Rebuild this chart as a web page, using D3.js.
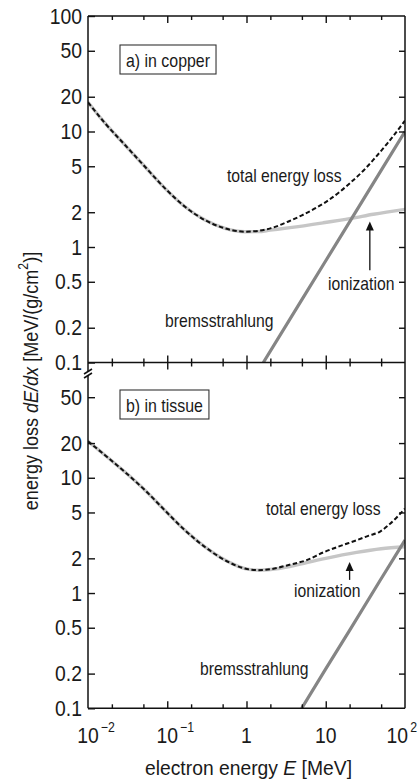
<!DOCTYPE html>
<html>
<head>
<meta charset="utf-8">
<script src="https://cdn.jsdelivr.net/npm/d3@7"></script>
<style>
  html, body { margin: 0; padding: 0; background: #fff; }
  svg text { font-family: "Liberation Sans", Arial, sans-serif; fill: #1a1a1a; }
</style>
</head>
<body>
<svg id="chart" width="418" height="781"></svg>
<script>
// Electron energy in MeV, energy loss in MeV/(g/cm²)
const energyTicks = [0.01, 0.1, 1, 10, 100];
const energyTickLabels = [["10", "−2"], ["10", "−1"], ["1", ""], ["10", ""], ["10", "2"]];
const energyMinorTicks = [0.02, 0.05, 0.2, 0.5, 2, 5, 20, 50];
const lossTicksTop = [100, 50, 20, 10, 5, 2, 1, 0.5, 0.2, 0.1];
const lossTicksBottom = [50, 20, 10, 5, 2, 1, 0.5, 0.2, 0.1];

// a) copper
const copperIonE    = [0.01, 0.0164, 0.0293, 0.0524, 0.0937, 0.1675, 0.299, 0.535, 0.957, 1.41, 1.98, 3.54, 9.3, 20.8, 40, 100];
const copperIonLoss = [17.9, 11.8, 7.64, 4.95, 3.22, 2.23, 1.71, 1.45, 1.357, 1.36, 1.40, 1.47, 1.62, 1.77, 1.92, 2.12];
const copperBremsE    = [1.63, 5, 10, 20, 50, 100];
const copperBremsLoss = [0.1, 0.35, 0.76, 1.65, 4.6, 10];
const copperTotalE    = [0.01, 0.0164, 0.0293, 0.0524, 0.0937, 0.1675, 0.299, 0.535, 0.957, 1.41, 2, 3.5, 5, 7.7, 10, 15, 20, 30, 40, 60, 100];
const copperTotalLoss = [17.9, 11.8, 7.64, 4.95, 3.22, 2.23, 1.71, 1.45, 1.357, 1.38, 1.45, 1.68, 1.88, 2.2, 2.45, 3.0, 3.55, 4.6, 5.7, 7.9, 12.4];

// b) tissue
const tissueIonE    = [0.01, 0.0164, 0.0293, 0.0524, 0.0937, 0.1675, 0.299, 0.535, 0.957, 1.41, 2, 3.5, 5.75, 10, 24.5, 50, 100];
const tissueIonLoss = [20.7, 15.7, 11.2, 7.8, 5.2, 3.5, 2.51, 1.93, 1.63, 1.58, 1.60, 1.70, 1.84, 2.0, 2.25, 2.42, 2.52];
const tissueBremsE    = [4.97, 10, 20, 50, 100];
const tissueBremsLoss = [0.1, 0.22, 0.475, 1.33, 2.88];
const tissueTotalE    = [0.01, 0.0164, 0.0293, 0.0524, 0.0937, 0.1675, 0.299, 0.535, 0.957, 1.41, 2, 3.5, 5.75, 9.3, 15, 24.5, 35, 48, 65, 100];
const tissueTotalLoss = [20.7, 15.7, 11.2, 7.8, 5.2, 3.5, 2.51, 1.93, 1.63, 1.58, 1.61, 1.76, 1.93, 2.25, 2.55, 2.87, 3.15, 3.4, 4.0, 5.4];

const svg = d3.select("#chart");
const W = 418;
const left = 88, right = 405;
const topY = 16, midY = 362.5, botY = 708.3;

const x = d3.scaleLog().domain([0.01, 100]).range([left, right]);
const yTop = d3.scaleLog().domain([0.1, 100]).range([midY, topY]);
const yBot = d3.scaleLog().domain([0.1, 100]).range([botY, midY]);

const zip = (a, b) => a.map((v, i) => [v, b[i]]);

// narrow single-run lettering horizontally (condensed look)
function squeeze(sel, f) {
  sel.each(function () {
    const L = this.getComputedTextLength();
    this.setAttribute("textLength", (L * f).toFixed(2));
    this.setAttribute("lengthAdjust", "spacingAndGlyphs");
  });
}

function styleAxis(g) {
  g.select(".domain").remove();
  g.selectAll(".tick line").attr("stroke", "#111").attr("stroke-width", 1.4);
  g.selectAll(".tick text").attr("font-size", 22).attr("fill", "#1a1a1a").attr("font-family", null);
  squeeze(g.selectAll(".tick text"), 0.88);
}

// clip regions for the two panels
const defs = svg.append("defs");
defs.append("clipPath").attr("id", "clipTop").append("rect")
  .attr("x", left).attr("y", topY).attr("width", right - left).attr("height", midY - topY);
defs.append("clipPath").attr("id", "clipBot").append("rect")
  .attr("x", left).attr("y", midY).attr("width", right - left).attr("height", botY - midY);

function drawCurves(y, clipId, ion, brems, total) {
  const g = svg.append("g").attr("clip-path", `url(#${clipId})`);
  const smooth = d3.line().x(d => x(d[0])).y(d => y(d[1])).curve(d3.curveMonotoneX);
  const straight = d3.line().x(d => x(d[0])).y(d => y(d[1]));
  g.append("path").attr("d", smooth(ion)).attr("fill", "none")
    .attr("stroke", "#c6c6c6").attr("stroke-width", 3.4).attr("stroke-linecap", "round");
  g.append("path").attr("d", straight(brems)).attr("fill", "none")
    .attr("stroke", "#858585").attr("stroke-width", 3.2);
  g.append("path").attr("d", smooth(total)).attr("fill", "none")
    .attr("stroke", "#111").attr("stroke-width", 2).attr("stroke-dasharray", "4.5,2.5");
}

drawCurves(yTop, "clipTop", zip(copperIonE, copperIonLoss), zip(copperBremsE, copperBremsLoss), zip(copperTotalE, copperTotalLoss));
drawCurves(yBot, "clipBot", zip(tissueIonE, tissueIonLoss), zip(tissueBremsE, tissueBremsLoss), zip(tissueTotalE, tissueTotalLoss));

// ---- axes ----
const fmt = d3.format("~g");
// left (labelled) axes, ticks pointing inward
svg.append("g").attr("transform", `translate(${left},0)`)
  .call(d3.axisLeft(yTop).tickValues(lossTicksTop).tickFormat(fmt).tickSizeInner(-7).tickSizeOuter(0).tickPadding(6))
  .call(styleAxis);
svg.append("g").attr("transform", `translate(${left},0)`)
  .call(d3.axisLeft(yBot).tickValues(lossTicksBottom).tickFormat(fmt).tickSizeInner(-7).tickSizeOuter(0).tickPadding(6))
  .call(styleAxis);
// right axes
svg.append("g").attr("transform", `translate(${right},0)`)
  .call(d3.axisRight(yTop).tickValues(lossTicksTop.slice(1, -1)).tickFormat("").tickSizeInner(-6).tickSizeOuter(0))
  .call(styleAxis);
svg.append("g").attr("transform", `translate(${right},0)`)
  .call(d3.axisRight(yBot).tickValues(lossTicksBottom.slice(0, -1)).tickFormat("").tickSizeInner(-6).tickSizeOuter(0))
  .call(styleAxis);

// horizontal energy axes: top frame, shared middle line (ticks both ways), bottom frame
function energyTicksAt(yPos, makeAxis, majorLen, minorLen) {
  svg.append("g").attr("transform", `translate(0,${yPos})`)
    .call(makeAxis(x).tickValues(energyTicks.slice(1, -1)).tickFormat("").tickSizeInner(majorLen).tickSizeOuter(0))
    .call(styleAxis);
  svg.append("g").attr("transform", `translate(0,${yPos})`)
    .call(makeAxis(x).tickValues(energyMinorTicks).tickFormat("").tickSizeInner(minorLen).tickSizeOuter(0))
    .call(styleAxis);
}
energyTicksAt(topY, d3.axisTop, -7, -4);
energyTicksAt(midY, d3.axisBottom, -7, -4);
energyTicksAt(midY, d3.axisTop, -7, -4);
energyTicksAt(botY, d3.axisBottom, -7, -4);

// frame lines
const frame = svg.append("g").attr("stroke", "#111").attr("stroke-width", 1.5).attr("fill", "none");
const breakTop = midY + 9, breakBot = midY + 13;
frame.append("line").attr("x1", left).attr("x2", right).attr("y1", topY).attr("y2", topY);
frame.append("line").attr("x1", left).attr("x2", right).attr("y1", midY).attr("y2", midY);
frame.append("line").attr("x1", left).attr("x2", right).attr("y1", botY).attr("y2", botY);
frame.append("line").attr("x1", right).attr("x2", right).attr("y1", topY).attr("y2", botY);
frame.append("line").attr("x1", left).attr("x2", left).attr("y1", topY).attr("y2", breakTop);
frame.append("line").attr("x1", left).attr("x2", left).attr("y1", breakBot).attr("y2", botY);
// axis break marks
frame.append("line").attr("x1", left - 4).attr("y1", breakTop + 2.5).attr("x2", left + 4).attr("y2", breakTop - 2.5);
frame.append("line").attr("x1", left - 4).attr("y1", breakBot + 2.5).attr("x2", left + 4).attr("y2", breakBot - 2.5);

// energy tick labels: mantissa centred on the tick, exponent set separately
const labelSqueeze = 0.88;
energyTicks.forEach((e, i) => {
  const [base, sup] = energyTickLabels[i];
  const b = svg.append("text").attr("y", 743).attr("font-size", 22).text(base);
  const w = b.node().getComputedTextLength() * labelSqueeze;
  squeeze(b, labelSqueeze);
  let s = null, ws = 0;
  if (sup) {
    s = svg.append("text").attr("y", 732).attr("font-size", 14).text(sup);
    ws = s.node().getComputedTextLength() * labelSqueeze;
    squeeze(s, labelSqueeze);
  }
  const x0 = Math.min(x(e) - w / 2, W - 1 - w - ws - 2);
  b.attr("x", x0);
  if (s) s.attr("x", x0 + w + 2);
});

// axis titles (group-scaled for a condensed look)
const xt = svg.append("g").attr("transform", `translate(${(left + right) / 2 + 2},775) scale(0.92,1)`)
  .append("text").attr("text-anchor", "middle").attr("font-size", 21);
xt.append("tspan").text("electron energy ");
xt.append("tspan").attr("font-style", "italic").text("E");
xt.append("tspan").text(" [MeV]");

const yt = svg.append("g").attr("transform", "translate(38,381) rotate(-90) scale(0.88,1)")
  .append("text").attr("text-anchor", "middle").attr("font-size", 20.5);
yt.append("tspan").text("energy loss ");
yt.append("tspan").attr("font-style", "italic").text("dE/dx");
yt.append("tspan").text(" [MeV/(g/cm");
yt.append("tspan").attr("dy", -10).attr("font-size", 14).text("2");
yt.append("tspan").attr("dy", 10).text(")]");

// panel labels in boxes
function panelLabel(label, yBase) {
  const t = svg.append("text").attr("x", 126).attr("y", yBase).attr("font-size", 18.5).text(label);
  squeeze(t, 0.86);
  const bb = t.node().getBBox();
  svg.insert("rect", () => t.node())
    .attr("x", 120).attr("y", yBase - 22).attr("width", bb.width + 12).attr("height", 29)
    .attr("fill", "#fff").attr("stroke", "#333").attr("stroke-width", 1.1);
}
panelLabel("a) in copper", 67);
panelLabel("b) in tissue", 412);

// curve annotations
function note(txt, xPos, yPos) {
  squeeze(svg.append("text").attr("x", xPos).attr("y", yPos).attr("font-size", 18.5).text(txt), 0.85);
}
note("total energy loss", 227, 182);
note("ionization", 328, 290);
note("bremsstrahlung", 165, 327);
note("total energy loss", 266, 515);
note("ionization", 294, 597);
note("bremsstrahlung", 200, 675);

// arrows pointing at the ionization curves
function arrow(e, y, tipVal, tailVal) {
  const ax = x(e), tip = y(tipVal), tail = y(tailVal);
  svg.append("line").attr("x1", ax).attr("x2", ax).attr("y1", tail).attr("y2", tip + 6)
    .attr("stroke", "#111").attr("stroke-width", 1.3);
  svg.append("path").attr("d", `M${ax},${tip} L${ax - 4},${tip + 9} L${ax + 4},${tip + 9} Z`).attr("fill", "#111");
}
arrow(36, yTop, 1.66, 0.63);
arrow(20, yBot, 1.86, 1.3);
</script>
</body>
</html>
